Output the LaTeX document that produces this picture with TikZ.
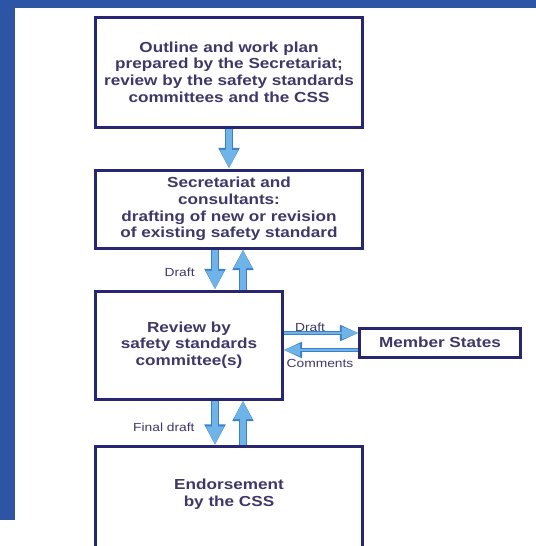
\documentclass[tikz,border=0pt]{standalone}
\usepackage{fontspec}
\setmainfont{Liberation Sans}[FakeStretch=1.18]
\usetikzlibrary{positioning, arrows.meta}
\definecolor{bandBlue}{RGB}{45,85,165}
\definecolor{boxEdge}{RGB}{40,38,112}
\definecolor{boxText}{RGB}{62,56,104}
\definecolor{arrowFill}{RGB}{110,180,232}
\definecolor{arrowEdge}{RGB}{62,128,198}

\begin{document}
\begin{tikzpicture}[x=0.03cm, y=-0.03cm,
  stage/.style={draw=boxEdge, line width=0.09cm, fill=white, text=boxText,
    align=center, font=\fontsize{12.4}{14.2}\selectfont\bfseries,
    minimum width=7.98cm, inner sep=0pt},
  lbl/.style={text=boxText, font=\fontsize{10}{11}\selectfont, inner sep=1pt},
  fat/.style={draw=arrowFill, line width=0.17cm,
    -{Triangle[length=0.56cm, width=0.5cm]},
    preaction={draw=arrowEdge, line width=0.26cm,
      -{Triangle[length=0.62cm, width=0.6cm]}}},
  slim/.style={draw=arrowFill, line width=0.06cm,
    -{Triangle[length=0.5cm, width=0.36cm]},
    preaction={draw=arrowEdge, line width=0.13cm,
      -{Triangle[length=0.56cm, width=0.46cm]}}},
]
  \useasboundingbox (0,0) rectangle (536,546);
  \clip (0,0) rectangle (536,546);

  % frame of the slide
  \fill[bandBlue] (0,0) rectangle (536,8);
  \fill[bandBlue] (0,0) rectangle (15,520);

  \node[stage, minimum height=3.3cm] (outline) at (229,72)
    {Outline and work plan\\ prepared by the Secretariat;\\
     review by the safety standards\\ committees and the CSS};
  \node[stage, minimum height=2.34cm] (drafting) at (229,209)
    {Secretariat and\\ consultants:\\ drafting of new or revision\\
     of existing safety standard};
  \node[stage, minimum width=5.58cm, minimum height=3.24cm] (review) at (189,345)
    {Review by\\ safety standards\\ committee(s)};
  \node[stage, minimum width=4.8cm, minimum height=0.87cm] (members) at (440,342.5)
    {Member States};
  \node[stage, anchor=north, text height=1.8cm, text depth=2.0cm] (endorse) at (229,445)
    {Endorsement\\ by the CSS};

  % flow between the stages
  \draw[fat] (outline.south) -- (drafting.north);
  \draw[fat] ([xshift=-0.42cm]drafting.south) -- ([xshift=-0.42cm]drafting.south |- review.north);
  \draw[fat] ([xshift=0.42cm]drafting.south |- review.north) -- ([xshift=0.42cm]drafting.south);
  \draw[fat] ([xshift=-0.42cm]endorse.north |- review.south) -- ([xshift=-0.42cm]endorse.north);
  \draw[fat] ([xshift=0.42cm]endorse.north) -- ([xshift=0.42cm]endorse.north |- review.south);
  \draw[slim] ([yshift=0.285cm]members.west -| review.east) -- ([yshift=0.285cm]members.west);
  \draw[slim] ([yshift=-0.225cm]members.west) -- ([yshift=-0.225cm]members.west -| review.east);

  \node[lbl, anchor=east] (draftdown) at (196,272) {Draft};
  \node[lbl, anchor=east] (finaldraft) at (196,427) {Final draft};
  \node[lbl] (draftright) at (310,327) {Draft};
  \node[lbl] (comments) at (320,363) {Comments};
\end{tikzpicture}
\end{document}
